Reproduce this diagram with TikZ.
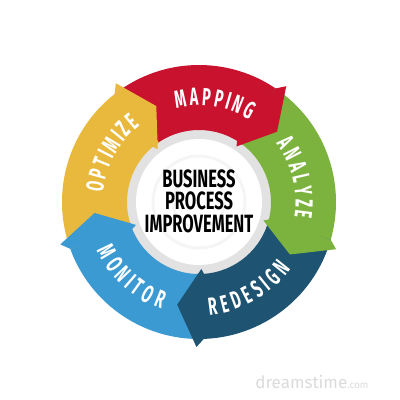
\documentclass[tikz,border=0pt]{standalone}
\usepackage{fontspec}
\usepackage{graphicx}
\newfontfamily\ringfont{Fira Sans}[FakeStretch=0.64]
\newfontfamily\centerfont{Fira Sans}[FakeStretch=0.66]
\newfontfamily\wmfont{Fira Sans}
\definecolor{cred}{RGB}{200,18,46}
\definecolor{cgreen}{RGB}{124,178,62}
\definecolor{cdblue}{RGB}{30,84,114}
\definecolor{clblue}{RGB}{60,154,210}
\definecolor{cyellow}{RGB}{232,185,60}
\definecolor{ringgray}{RGB}{226,226,226}
\tikzset{
  ringletter/.style={text=white, inner sep=0pt, anchor=base, font=\ringfont\bfseries\fontsize{22.5pt}{22.5pt}\selectfont}
}
% #1 start angle, #2 signed degrees per width unit, #3 baseline radius, #4 rotation offset, #5 letter/width list
\newcommand{\arclabel}[5]{%
  \xdef\lcur{#1}%
  \foreach \ch/\w in {#5} {
    \pgfmathsetmacro{\lmid}{\lcur + (#2)*\w/2}
    \pgfmathsetmacro{\lnext}{\lcur + (#2)*\w}
    \node[ringletter, rotate=\lmid+(#4)] at (\lmid:#3) {\scalebox{1}[1.1]{\ch}};
    \xdef\lcur{\lnext}
  }%
}
\begin{document}
\begin{tikzpicture}[x=1pt,y=1pt]
\fill[white] (0,0) rectangle (400,400);
\useasboundingbox (0,0) rectangle (400,400);
\begin{scope}[shift={(199,198)}]
  % inner disk
  \fill[ringgray] (0,0) circle[radius=74pt];
  \fill[white] (0,0) circle[radius=63pt];
  \draw[gray!8, line width=3pt] (0,0) circle[radius=46pt];
  \draw[gray!8, line width=3pt] (0,0) circle[radius=26pt];
  % bodies
  \foreach \h/\c in {42/cred, -30/cgreen, -102/cdblue, -174/clblue, -246/cyellow} {
    \pgfmathsetmacro{\a}{\h+10}
    \pgfmathsetmacro{\b}{\h+86}
    \fill[\c] (\a:137pt) arc[start angle=\a, end angle=\b, radius=137pt]
      -- (\b:72pt) arc[start angle=\b, end angle=\a, radius=72pt] -- cycle;
  }
  % heads
  \foreach \h/\c in {42/cred, -30/cgreen, -102/cdblue, -174/clblue, -246/cyellow} {
    \pgfmathsetmacro{\p}{\h+14}
    \pgfmathsetmacro{\q}{\h+11}
    \pgfmathsetmacro{\r}{\h+16}
    \fill[\c] (\p:137pt) -- (\q:145pt) -- (\h:105pt) -- (\p:67pt) -- (\r:72pt) -- cycle;
  }
  % labels
  \arclabel{104.5}{-6.89}{96.5pt}{-90}{M/1.2, A/1, P/1, P/1, I/0.55, N/1, G/1}
  \arclabel{38}{-7.22}{96.5pt}{-90}{A/1, N/1, A/1, L/0.9, Y/1, Z/0.9, E/0.85}
  \arclabel{-86}{7.03}{113.5pt}{90}{R/1, E/0.85, D/1, E/0.85, S/1, I/0.55, G/1, N/1}
  \arclabel{204}{7.11}{113.5pt}{90}{M/1.2, O/1.05, N/1, I/0.55, T/0.9, O/1.05, R/1}
  \arclabel{175}{-6.86}{96.5pt}{-90}{O/1.05, P/1, T/0.9, I/0.55, M/1.2, I/0.55, Z/0.9, E/0.85}
  \node[align=center, text=black, font=\centerfont\bfseries\fontsize{25pt}{22.5pt}\selectfont] (title) at (0,1) {BUSINESS\\PROCESS\\IMPROVEMENT};
\end{scope}
\node[text=gray!28, font=\wmfont\fontsize{17pt}{17pt}\selectfont] (wm) at (312,18) {dreamstime{\fontsize{10pt}{10pt}\selectfont.com}};
\end{tikzpicture}
\end{document}
